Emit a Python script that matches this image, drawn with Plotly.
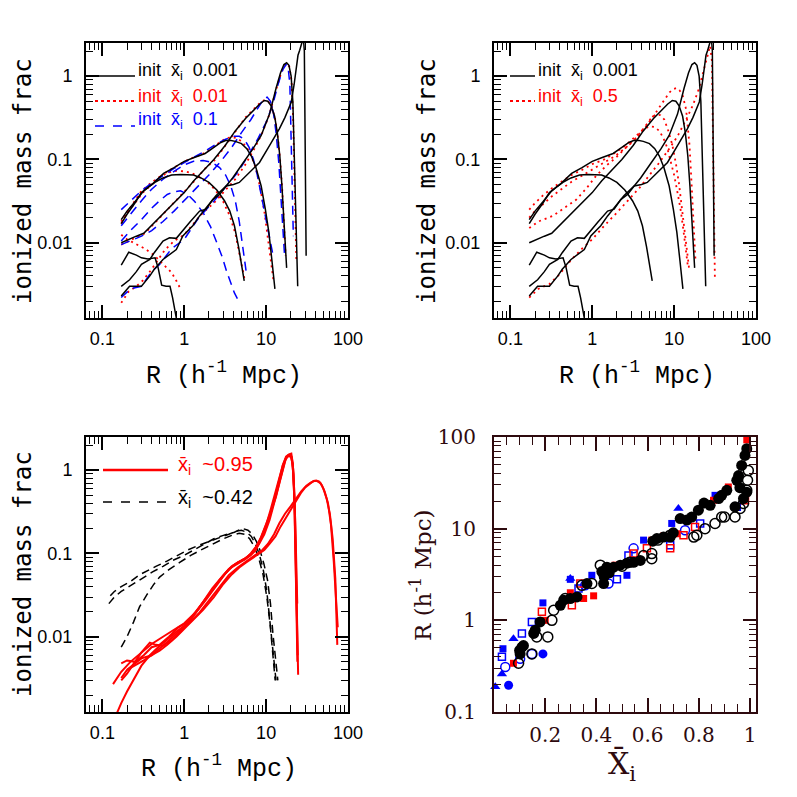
import plotly.graph_objects as go

# ---------- top panels: black solid curves, init xbar_i = 0.001 (shared by both) ----------
k0_r = [0.17, 0.21, 0.26, 0.30, 0.36, 0.44, 0.48, 0.53, 0.60, 0.67, 0.72, 0.78, 0.85]
k0_f = [0.0054, 0.0077, 0.0071, 0.0066, 0.0064, 0.0066, 0.0050, 0.0031, 0.0030, 0.0030, 0.0022, 0.0014, 0.0009]
k1_r = [0.17, 0.2, 0.25, 0.3, 0.38, 0.45, 0.55, 0.7, 0.9, 1.1, 1.3, 1.6, 2.0, 2.5, 3.1, 3.6, 4.1, 4.6, 5.0, 5.4]
k1_f = [0.017, 0.022, 0.030, 0.040, 0.048, 0.054, 0.060, 0.065, 0.066, 0.066, 0.065, 0.060, 0.053, 0.043, 0.032, 0.024, 0.016, 0.009, 0.0055, 0.0035]
k2_r = [0.17, 0.2, 0.25, 0.32, 0.42, 0.56, 0.75, 1.0, 1.3, 1.8, 2.3, 2.8, 3.2, 3.6, 4.2, 5.0, 5.8, 6.6, 7.5, 8.7, 9.8, 10.8, 11.8, 12.8]
k2_f = [0.019, 0.024, 0.031, 0.042, 0.052, 0.068, 0.080, 0.095, 0.105, 0.118, 0.14, 0.16, 0.169, 0.17, 0.165, 0.155, 0.135, 0.11, 0.08, 0.048, 0.025, 0.0133, 0.006, 0.0028]
k3_r = [0.17, 0.21, 0.26, 0.32, 0.42, 0.56, 0.75, 1.0, 1.3, 1.77, 2.3, 3.16, 4.2, 5.6, 7.0, 8.3, 9.5, 10.5, 11.5, 12.7, 13.7, 14.7, 15.6, 16.4, 17.2, 17.8]
k3_f = [0.010, 0.011, 0.012, 0.013, 0.017, 0.023, 0.030, 0.040, 0.055, 0.077, 0.10, 0.147, 0.22, 0.31, 0.39, 0.46, 0.51, 0.50, 0.44, 0.33, 0.21, 0.11, 0.048, 0.020, 0.0075, 0.005]
k4_r = [0.17, 0.215, 0.26, 0.30, 0.38, 0.43, 0.55, 0.66, 0.80, 0.95, 1.16, 1.54, 1.85, 2.23, 2.7, 3.25, 3.9, 5.2, 6.9, 8.7, 11, 13.2, 15, 16.5, 17.8, 19, 20.2, 21.2, 22.1, 23.2, 24.3]
k4_f = [0.0030, 0.0036, 0.0045, 0.0055, 0.0063, 0.0076, 0.0105, 0.0115, 0.0113, 0.0140, 0.0175, 0.024, 0.0253, 0.033, 0.038, 0.048, 0.060, 0.09, 0.134, 0.194, 0.35, 0.71, 1.1, 1.38, 1.45, 1.35, 1.0, 0.5, 0.09, 0.015, 0.003]
k5_r = [0.17, 0.215, 0.25, 0.30, 0.38, 0.43, 0.55, 0.80, 0.96, 1.27, 1.54, 1.85, 2.45, 3.25, 4.0, 4.7, 6.25, 8.3, 11, 14.5, 17, 19.2, 20.3, 22, 24.5, 25.7, 27, 28.5, 29.3, 30, 30.8]
k5_f = [0.0023, 0.0030, 0.0030, 0.0030, 0.0040, 0.0048, 0.0063, 0.0083, 0.0121, 0.016, 0.021, 0.0265, 0.037, 0.048, 0.050, 0.053, 0.070, 0.092, 0.147, 0.233, 0.32, 0.42, 0.49, 0.8, 1.78, 2.05, 2.4, 2.9, 2.0, 0.2, 0.007]

# ---------- top-left: red dotted, init xbar_i = 0.01 ----------
r0_r = [0.17, 0.2, 0.25, 0.33, 0.42, 0.55, 0.7, 0.8, 0.9]
r0_f = [0.0125, 0.011, 0.0098, 0.0085, 0.0072, 0.0056, 0.0044, 0.0035, 0.0028]
r1_r = [0.17, 0.2, 0.25, 0.3, 0.4, 0.5, 0.65, 0.8, 1.0, 1.2, 1.5, 1.9, 2.4, 3.0, 3.6, 4.2, 4.7, 5.2, 5.5]
r1_f = [0.017, 0.023, 0.032, 0.042, 0.053, 0.062, 0.070, 0.073, 0.072, 0.069, 0.063, 0.054, 0.043, 0.031, 0.021, 0.013, 0.0075, 0.0045, 0.0035]
r2_r = [0.17, 0.2, 0.25, 0.32, 0.42, 0.56, 0.75, 1.0, 1.3, 1.8, 2.3, 2.8, 3.3, 3.8, 4.4, 5.0, 5.8, 6.6, 7.5, 8.5, 9.5, 10.5, 11.5, 12.3]
r2_f = [0.018, 0.023, 0.030, 0.041, 0.052, 0.067, 0.080, 0.094, 0.106, 0.12, 0.142, 0.165, 0.18, 0.185, 0.18, 0.165, 0.14, 0.11, 0.078, 0.045, 0.024, 0.012, 0.006, 0.0035]
r3_r = [0.17, 0.21, 0.26, 0.33, 0.43, 0.57, 0.76, 1.0, 1.35, 1.8, 2.4, 3.2, 4.3, 5.6, 7.0, 8.3, 9.6, 10.6, 11.6, 12.8, 13.8, 14.8, 15.7, 16.5, 17.3]
r3_f = [0.0095, 0.0105, 0.0118, 0.013, 0.017, 0.023, 0.031, 0.041, 0.056, 0.078, 0.10, 0.15, 0.22, 0.32, 0.40, 0.47, 0.52, 0.50, 0.43, 0.32, 0.20, 0.10, 0.045, 0.018, 0.007]
r4_r = [0.17, 0.21, 0.26, 0.31, 0.38, 0.46, 0.58, 0.75, 1.0, 1.3, 1.7, 2.3, 3.1, 4.2, 5.5, 7.2, 9.0, 11, 13.2, 15.2, 16.8, 18, 19.2, 20.4, 21.4, 22.4, 23.4]
r4_f = [0.0019, 0.0026, 0.0030, 0.0035, 0.0045, 0.0060, 0.0082, 0.0105, 0.0125, 0.017, 0.023, 0.030, 0.042, 0.058, 0.085, 0.135, 0.21, 0.35, 0.68, 1.08, 1.35, 1.42, 1.3, 0.9, 0.3, 0.04, 0.006]

# ---------- top-left: blue dashed, init xbar_i = 0.1 ----------
b1_r = [0.17, 0.22, 0.3, 0.4, 0.5, 0.62, 0.75, 0.9, 1.1, 1.35, 1.7, 2.1, 2.5, 2.9, 3.3, 3.7, 4.1, 4.5, 4.8]
b1_f = [0.0105, 0.014, 0.019, 0.026, 0.032, 0.038, 0.041, 0.042, 0.038, 0.031, 0.023, 0.0155, 0.010, 0.0068, 0.0045, 0.0032, 0.0025, 0.0021, 0.0019]
b2_r = [0.17, 0.22, 0.3, 0.4, 0.55, 0.75, 1.0, 1.3, 1.7, 2.2, 2.7, 3.2, 3.7, 4.2, 4.7, 5.1, 5.5, 5.8]
b2_f = [0.016, 0.022, 0.032, 0.044, 0.058, 0.072, 0.086, 0.095, 0.097, 0.092, 0.080, 0.065, 0.048, 0.032, 0.018, 0.010, 0.006, 0.004]
b3_r = [0.17, 0.22, 0.3, 0.4, 0.55, 0.75, 1.0, 1.4, 1.9, 2.5, 3.2, 4.0, 4.7, 5.4, 6.2, 7.0, 7.8, 8.6, 9.4, 10.2, 11.0, 11.6, 12.0]
b3_f = [0.025, 0.032, 0.042, 0.052, 0.064, 0.078, 0.092, 0.11, 0.13, 0.155, 0.175, 0.19, 0.19, 0.175, 0.14, 0.10, 0.065, 0.04, 0.025, 0.016, 0.011, 0.0085, 0.0075]
b4_r = [0.17, 0.22, 0.3, 0.4, 0.55, 0.75, 1.0, 1.4, 2.0, 2.8, 3.8, 5.0, 6.5, 8.0, 9.3, 10.3, 11.3, 12.3, 13.3, 14.3, 15.3, 16.2, 16.8]
b4_f = [0.0095, 0.0105, 0.012, 0.014, 0.018, 0.024, 0.032, 0.045, 0.065, 0.095, 0.14, 0.21, 0.30, 0.42, 0.53, 0.56, 0.50, 0.36, 0.20, 0.09, 0.03, 0.012, 0.007]
b5_r = [0.17, 0.22, 0.3, 0.4, 0.5, 0.7, 1.0, 1.5, 2.2, 3.2, 4.5, 6.0, 8.0, 10, 12, 14, 16, 17.5, 18.5, 19.5, 20.5, 21.5]
b5_f = [0.0022, 0.0028, 0.0030, 0.0045, 0.0055, 0.0085, 0.0110, 0.020, 0.030, 0.046, 0.07, 0.11, 0.18, 0.28, 0.45, 0.8, 1.2, 1.38, 1.3, 0.8, 0.1, 0.012]

# ---------- top-right: red dotted, init xbar_i = 0.5 ----------
q1_r = [0.17, 0.2, 0.25, 0.32, 0.42, 0.56, 0.75, 1.0, 1.4, 1.9, 2.6, 3.4, 4.2, 5.0, 5.8, 6.6, 7.4, 8.2, 9.0, 10, 11, 12, 13, 14, 14.8]
q1_f = [0.025, 0.030, 0.037, 0.045, 0.054, 0.065, 0.075, 0.088, 0.10, 0.12, 0.15, 0.19, 0.23, 0.25, 0.245, 0.22, 0.18, 0.14, 0.10, 0.065, 0.04, 0.025, 0.014, 0.008, 0.005]
q2_r = [0.17, 0.2, 0.25, 0.32, 0.42, 0.56, 0.75, 1.0, 1.4, 1.9, 2.6, 3.4, 4.3, 5.2, 6.0, 6.8, 7.6, 8.5, 9.5, 10.5, 11.5, 12.5, 13.5, 14.5, 15.2]
q2_f = [0.020, 0.024, 0.029, 0.036, 0.044, 0.054, 0.064, 0.076, 0.092, 0.11, 0.14, 0.18, 0.24, 0.31, 0.35, 0.34, 0.30, 0.22, 0.15, 0.09, 0.05, 0.025, 0.012, 0.007, 0.005]
q3_r = [0.17, 0.22, 0.33, 0.45, 0.64, 0.85, 1.12, 1.5, 1.96, 2.6, 3.44, 4.4, 5.2, 6.03, 7.2, 8.8, 9.8, 10.6, 11.6, 12.7, 14, 15.4, 16.2, 16.9, 17.6, 18.2]
q3_f = [0.015, 0.018, 0.021, 0.026, 0.033, 0.045, 0.064, 0.085, 0.106, 0.14, 0.177, 0.24, 0.30, 0.37, 0.48, 0.64, 0.70, 0.72, 0.68, 0.59, 0.40, 0.15, 0.06, 0.025, 0.01, 0.0063]
q4_r = [0.17, 0.22, 0.3, 0.4, 0.55, 0.75, 1.0, 1.4, 2.0, 2.8, 3.8, 5.0, 6.5, 8.5, 11, 14, 17, 20, 22, 24, 26, 27.5, 29, 30, 31, 31.5]
q4_f = [0.0022, 0.0028, 0.0032, 0.0042, 0.0062, 0.0085, 0.011, 0.016, 0.023, 0.033, 0.046, 0.065, 0.09, 0.13, 0.19, 0.30, 0.45, 0.7, 1.0, 1.4, 1.9, 2.3, 1.5, 0.2, 0.01, 0.0035]

# ---------- bottom-left: black dashed (xbar_i ~0.42) ----------
d1_r = [0.12, 0.14, 0.17, 0.23, 0.3, 0.41, 0.55, 0.73, 1.0, 1.3, 1.8, 2.3, 3.0, 4.1, 5.1, 6.0, 6.8, 7.6, 8.4, 9.4, 10.4, 11.3, 12.1, 13.0, 13.9]
d1_f = [0.025, 0.030, 0.035, 0.042, 0.050, 0.060, 0.070, 0.083, 0.095, 0.11, 0.13, 0.15, 0.165, 0.18, 0.20, 0.19, 0.17, 0.14, 0.11, 0.075, 0.048, 0.025, 0.011, 0.005, 0.003]
d2_r = [0.125, 0.14, 0.17, 0.22, 0.28, 0.35, 0.45, 0.6, 0.8, 1.1, 1.5, 2.0, 2.7, 3.5, 4.3, 5.0, 5.8, 6.6, 7.4, 8.2, 9.2, 10.2, 11.0, 11.8, 12.5, 13.2]
d2_f = [0.031, 0.035, 0.040, 0.046, 0.055, 0.062, 0.070, 0.080, 0.093, 0.11, 0.125, 0.14, 0.155, 0.17, 0.185, 0.19, 0.18, 0.16, 0.13, 0.10, 0.065, 0.035, 0.018, 0.009, 0.005, 0.003]
d3_r = [0.17, 0.2, 0.24, 0.285, 0.35, 0.42, 0.5, 0.65, 0.88, 1.2, 1.6, 2.2, 3.0, 3.8, 4.7, 5.5, 6.3, 7.2, 8.2, 9.2, 10.2, 11.2, 12.0, 12.9]
d3_f = [0.0075, 0.010, 0.015, 0.023, 0.032, 0.042, 0.052, 0.064, 0.078, 0.095, 0.11, 0.13, 0.15, 0.165, 0.175, 0.17, 0.15, 0.12, 0.085, 0.055, 0.03, 0.014, 0.0065, 0.003]

# ---------- bottom-left: red solid (xbar_i ~0.95) ----------
a1_r = [0.135, 0.17, 0.22, 0.3, 0.4, 0.55, 0.75, 1.0, 1.4, 2.0, 2.8, 3.6, 4.5, 5.5, 6.5, 7.5, 8.7, 10, 11.5, 13.2, 14.8, 16.2, 17.5, 18.5, 19.5, 20.5, 21.5, 22.3, 23, 23.6, 24.1]
a1_f = [0.0027, 0.0038, 0.0050, 0.0065, 0.0082, 0.0100, 0.0120, 0.0145, 0.020, 0.032, 0.050, 0.066, 0.075, 0.085, 0.095, 0.11, 0.15, 0.21, 0.32, 0.48, 0.75, 1.1, 1.4, 1.5, 1.52, 1.4, 0.9, 0.35, 0.08, 0.015, 0.005]
a2_r = [0.17, 0.2, 0.25, 0.32, 0.4, 0.5, 0.65, 0.85, 1.1, 1.5, 2.0, 2.7, 3.5, 4.5, 5.5, 6.5, 7.5, 8.5, 10, 11.5, 13, 14.5, 16, 17.5, 19, 20.3, 21.2, 22, 22.8, 23.6, 24.3]
a2_f = [0.0048, 0.0052, 0.0050, 0.0060, 0.0075, 0.0080, 0.0100, 0.0130, 0.0150, 0.022, 0.032, 0.048, 0.065, 0.078, 0.085, 0.10, 0.12, 0.15, 0.22, 0.32, 0.50, 0.8, 1.15, 1.45, 1.55, 1.58, 1.2, 0.5, 0.1, 0.02, 0.006]
a3_r = [0.17, 0.2, 0.25, 0.3, 0.38, 0.45, 0.55, 0.7, 0.9, 1.2, 1.6, 2.2, 3.0, 3.8, 4.7, 5.6, 6.6, 7.6, 8.8, 10, 11.5, 13, 14.5, 16, 17.5, 19, 20.5, 21.5, 22.5, 23.5, 24.6]
a3_f = [0.0030, 0.0036, 0.0050, 0.0065, 0.0085, 0.0080, 0.0078, 0.0090, 0.0115, 0.016, 0.024, 0.038, 0.055, 0.070, 0.080, 0.088, 0.10, 0.12, 0.16, 0.22, 0.35, 0.55, 0.85, 1.15, 1.4, 1.5, 1.45, 1.0, 0.3, 0.04, 0.0035]
a4_r = [0.15, 0.17, 0.2, 0.25, 0.3, 0.38, 0.48, 0.6, 0.8, 1.0, 1.3, 1.8, 2.4, 3.2, 4.0, 5.0, 6.0, 7.0, 8.2, 9.5, 11, 12.5, 14, 15.5, 17, 18.5, 20, 21, 22, 22.8, 23.5, 24]
a4_f = [0.0012, 0.0016, 0.0022, 0.0032, 0.0045, 0.0060, 0.0075, 0.0090, 0.0115, 0.0135, 0.018, 0.027, 0.040, 0.058, 0.072, 0.082, 0.092, 0.105, 0.13, 0.17, 0.25, 0.40, 0.62, 0.95, 1.3, 1.48, 1.45, 1.2, 0.6, 0.2, 0.05, 0.025]
e1_r = [0.17, 0.2, 0.25, 0.3, 0.4, 0.5, 0.65, 0.85, 1.1, 1.5, 2.0, 2.7, 3.5, 4.5, 5.5, 6.5, 7.5, 9, 10.5, 12.5, 14.5, 17, 20, 23.2, 27, 31, 35, 38.5, 42, 46, 50, 55, 60, 65, 70, 74]
e1_f = [0.0032, 0.0040, 0.0048, 0.0055, 0.0060, 0.0072, 0.0090, 0.0115, 0.0140, 0.019, 0.027, 0.040, 0.055, 0.068, 0.078, 0.088, 0.095, 0.11, 0.13, 0.17, 0.23, 0.30, 0.37, 0.46, 0.56, 0.65, 0.71, 0.74, 0.74, 0.70, 0.60, 0.45, 0.30, 0.15, 0.05, 0.008]
e2_r = [0.2, 0.25, 0.32, 0.4, 0.5, 0.62, 0.8, 1.0, 1.3, 1.7, 2.3, 3.0, 3.8, 4.7, 5.7, 6.8, 8, 9.5, 11, 13, 15, 17.5, 20, 23, 26.5, 30, 34, 38, 41, 44.5, 48, 52, 57, 62, 67, 71.5, 75]
e2_f = [0.0040, 0.0045, 0.0052, 0.0060, 0.0068, 0.0080, 0.0100, 0.0125, 0.016, 0.021, 0.030, 0.043, 0.056, 0.068, 0.078, 0.088, 0.097, 0.11, 0.13, 0.16, 0.21, 0.27, 0.34, 0.43, 0.53, 0.62, 0.69, 0.74, 0.75, 0.73, 0.66, 0.55, 0.40, 0.22, 0.08, 0.03, 0.013]

# ---------- bottom-right: R versus xbar_i ----------
bk_fill_x = [0.102, 0.109, 0.115, 0.10, 0.155, 0.161, 0.18, 0.259, 0.272, 0.298, 0.324, 0.363, 0.428, 0.421, 0.441, 0.467, 0.493, 0.519, 0.545, 0.571, 0.43, 0.45, 0.636, 0.662, 0.688, 0.727, 0.753, 0.772, 0.798, 0.844, 0.877, 0.889, 0.909, 0.948, 0.955, 0.967, 0.98, 0.987, 0.941, 0.974, 0.987, 0.62, 0.70, 0.82, 0.96]
bk_fill_y = [0.43, 0.51, 0.53, 0.47, 0.72, 0.78, 0.96, 1.46, 1.66, 1.73, 1.8, 2.52, 2.52, 3.4, 3.8, 3.8, 4.0, 4.2, 4.3, 4.5, 3.0, 3.3, 7.8, 8.1, 8.1, 12.9, 12.4, 13.4, 15.9, 18.0, 21.3, 23.1, 26.2, 33.7, 38, 49, 63, 74.6, 17.3, 21.3, 25, 7.3, 9.0, 19.0, 28]
bk_open_x = [0.096, 0.148, 0.167, 0.21, 0.226, 0.233, 0.278, 0.343, 0.382, 0.415, 0.441, 0.584, 0.616, 0.616, 0.64, 0.688, 0.78, 0.792, 0.824, 0.863, 0.889, 0.90, 0.941, 0.961, 0.974, 0.987, 0.99, 0.993, 0.50, 0.53]
bk_open_y = [0.34, 0.43, 0.66, 0.66, 1.0, 1.29, 1.73, 2.41, 2.52, 4.0, 3.7, 5.1, 4.7, 5.35, 7.5, 8.5, 8.1, 8.5, 10.0, 11.4, 13.4, 13.4, 13.4, 16.6, 18.8, 26.2, 33.7, 43, 3.9, 4.3]
rd_fill_x = [0.076, 0.20, 0.298, 0.35, 0.389, 0.473, 0.616, 0.662, 0.714, 0.857, 0.915, 0.987]
rd_fill_y = [0.34, 1.0, 2.0, 1.73, 1.85, 4.0, 7.5, 8.3, 8.8, 20.4, 28.5, 93]
rd_open_x = [0.187, 0.304, 0.337, 0.545, 0.597, 0.688, 0.785, 0.74, 0.98]
rd_open_y = [1.24, 1.46, 2.52, 5.35, 6.1, 6.1, 10.4, 8.5, 20.4]
bl_fill_sq_x = [0.035, 0.191, 0.298, 0.382, 0.519, 0.584, 0.694, 0.863]
bl_fill_sq_y = [0.49, 1.55, 2.8, 3.1, 3.1, 7.5, 11.4, 23.1]
bl_open_sq_x = [0.031, 0.109, 0.148, 0.33, 0.525, 0.48, 0.688, 0.805, 0.948]
bl_open_sq_y = [0.40, 0.72, 0.96, 2.22, 5.1, 2.8, 6.6, 11.4, 17.3]
bl_fill_ci_x = [0.057, 0.191]
bl_fill_ci_y = [0.196, 0.43]
bl_open_ci_x = [0.044, 0.102, 0.148, 0.356, 0.447, 0.545, 0.746]
bl_open_ci_y = [0.31, 0.38, 0.43, 2.41, 2.52, 6.1, 9.6]
bl_tri_x = [0.005, 0.031, 0.076, 0.298, 0.72]
bl_tri_y = [0.188, 0.26, 0.63, 2.86, 16.6]

# ---------- tick labels ----------
r_ticks = [0.1, 1, 10, 100]
r_ticktext = ["0.1", "1", "10", "100"]
f_ticks = [0.01, 0.1, 1]
f_ticktext = ["0.01", "0.1", "1"]
xi_ticks = [0.2, 0.4, 0.6, 0.8, 1.0]
xi_ticktext = ["0.2", "0.4", "0.6", "0.8", "1"]
rr_ticks = [0.1, 1, 10, 100]
rr_ticktext = ["0.1", "1", "10", "100"]

# page body has an 8px margin: draw on a 789px canvas and place everything in
# window pixel terms
OFF = 8
W = 797 - OFF
MAROON = "#2e0a0e"


def px(x):
    return (x - OFF) / W


def py(y):
    return 1 - (y - OFF) / W


def minor_log(lo, hi):
    out = []
    d = lo
    while d < hi:
        for m in range(2, 10):
            v = m * d
            if v < hi:
                out.append(v)
        d *= 10
    return out


def log_axis(rng, dom, anchor, tickvals, ticktext, minor_vals, font, standoff, color="black"):
    return dict(
        type="log", range=rng, domain=dom, anchor=anchor, automargin=False,
        showline=True, mirror="allticks", linecolor=color, linewidth=2,
        ticks="inside", ticklen=13, tickwidth=1.5, tickcolor=color,
        tickvals=tickvals, ticktext=ticktext, tickfont=font,
        minor=dict(ticks="inside", ticklen=7, tickwidth=1.2, tickcolor=color,
                   tickmode="array", tickvals=minor_vals),
        showgrid=False, zeroline=False, ticklabelstandoff=standoff,
    )


left_dom = [px(86), px(348)]
right_dom = [px(494), px(756)]
top_dom = [py(318), py(43)]
bot_dom = [py(712), py(437)]

tick_font = dict(family="Liberation Sans Narrow, Liberation Sans, Arial", size=18, color="black")
br_font = dict(family="DejaVu Serif", size=20, color=MAROON)

R_RANGE = [-1.2, 2.0]
F_RANGE = [-2.903, 0.398]
r_minor = minor_log(0.01, 100)
f_minor = minor_log(0.001, 10)

fig = go.Figure()

BLACK = dict(color="black", width=1.5)
RED_DOT = dict(color="red", width=1.8, dash="2px,4px")
BLUE_DASH = dict(color="blue", width=1.5, dash="9px,6px")


def add_line(r, f, line, xa, ya):
    fig.add_trace(go.Scatter(x=r, y=f, mode="lines", line=line, xaxis=xa, yaxis=ya,
                             showlegend=False, hoverinfo="skip"))


# top-left
for r, f in [(r0_r, r0_f), (r1_r, r1_f), (r2_r, r2_f), (r3_r, r3_f), (r4_r, r4_f)]:
    add_line(r, f, RED_DOT, "x", "y")
for r, f in [(b1_r, b1_f), (b2_r, b2_f), (b3_r, b3_f), (b4_r, b4_f), (b5_r, b5_f)]:
    add_line(r, f, BLUE_DASH, "x", "y")
black_curves = [(k0_r, k0_f), (k1_r, k1_f), (k2_r, k2_f), (k3_r, k3_f), (k4_r, k4_f), (k5_r, k5_f)]
for r, f in black_curves:
    add_line(r, f, BLACK, "x", "y")

# top-right
for r, f in [(q1_r, q1_f), (q2_r, q2_f), (q3_r, q3_f), (q4_r, q4_f)]:
    add_line(r, f, RED_DOT, "x2", "y2")
for r, f in black_curves:
    add_line(r, f, BLACK, "x2", "y2")

# bottom-left
for r, f in [(d1_r, d1_f), (d2_r, d2_f), (d3_r, d3_f)]:
    add_line(r, f, dict(color="black", width=1.5, dash="8px,5px"), "x3", "y3")
for r, f in [(a1_r, a1_f), (a2_r, a2_f), (a3_r, a3_f), (a4_r, a4_f), (e1_r, e1_f), (e2_r, e2_f)]:
    add_line(r, f, dict(color="red", width=2), "x3", "y3")


# bottom-right
def add_pts(x, y, symbol, color, size, open_=False):
    fig.add_trace(go.Scatter(
        x=x, y=y, mode="markers", xaxis="x4", yaxis="y4", showlegend=False, hoverinfo="skip",
        marker=dict(symbol=symbol, size=size,
                    color="rgba(0,0,0,0)" if open_ else color,
                    line=dict(color=color, width=1.5 if open_ else 0)),
        cliponaxis=False,
    ))


add_pts(bl_tri_x, bl_tri_y, "triangle-up", "blue", 9)
add_pts(bl_fill_ci_x, bl_fill_ci_y, "circle", "blue", 9)
add_pts(bl_open_ci_x, bl_open_ci_y, "circle", "blue", 9, True)
add_pts(bl_fill_sq_x, bl_fill_sq_y, "square", "blue", 7)
add_pts(bl_open_sq_x, bl_open_sq_y, "square", "blue", 7, True)
add_pts(rd_fill_x, rd_fill_y, "square", "red", 7)
add_pts(rd_open_x, rd_open_y, "square", "red", 7, True)
add_pts(bk_open_x, bk_open_y, "circle", "black", 10, True)
add_pts(bk_fill_x, bk_fill_y, "circle", "black", 11)

fig.update_layout(
    width=W, height=W, autosize=False,
    margin=dict(l=0, r=0, t=0, b=0),
    paper_bgcolor="white", plot_bgcolor="white",
    showlegend=False,
    xaxis=log_axis(R_RANGE, left_dom, "y", r_ticks, r_ticktext, r_minor, tick_font, 3),
    yaxis=log_axis(F_RANGE, top_dom, "x", f_ticks, f_ticktext, f_minor, tick_font, 8),
    xaxis2=log_axis(R_RANGE, right_dom, "y2", r_ticks, r_ticktext, r_minor, tick_font, 3),
    yaxis2=log_axis(F_RANGE, top_dom, "x2", f_ticks, f_ticktext, f_minor, tick_font, 8),
    xaxis3=log_axis(R_RANGE, left_dom, "y3", r_ticks, r_ticktext, r_minor, tick_font, 3),
    yaxis3=log_axis(F_RANGE, bot_dom, "x3", f_ticks, f_ticktext, f_minor, tick_font, 8),
    xaxis4=dict(
        range=[0.0, 1.023], domain=right_dom, anchor="y4", automargin=False,
        showline=True, mirror="allticks", linecolor=MAROON, linewidth=2,
        ticks="inside", ticklen=14, tickwidth=1.5, tickcolor=MAROON,
        tickvals=xi_ticks, ticktext=xi_ticktext, tickfont=br_font,
        minor=dict(ticks="inside", ticklen=8, tickwidth=1.2, tickcolor=MAROON, dtick=0.05, tick0=0),
        showgrid=False, zeroline=False, ticklabelstandoff=4,
    ),
    yaxis4=log_axis([-1, 2], bot_dom, "x4", rr_ticks, rr_ticktext, minor_log(0.1, 100), br_font, 12, MAROON),
)

ann = []
shapes = []
title_font = dict(family="DejaVu Sans Mono", size=24, color="black")
r_font = dict(family="Liberation Mono", size=25, color="black")
R_TITLE = "R (h<sup>-1</sup> Mpc)"


def label(x, y, text, font, angle=0):
    ann.append(dict(x=px(x), y=py(y), text=text, textangle=angle, font=font,
                    xanchor="center", yanchor="middle", showarrow=False,
                    xref="paper", yref="paper"))


label(23, 181, "ionized mass frac", title_font, -90)
label(427, 181, "ionized mass frac", title_font, -90)
label(23, 574, "ionized mass frac", title_font, -90)
label(224, 374, R_TITLE, r_font)
label(637, 374, R_TITLE, r_font)
label(219, 767, R_TITLE, r_font)
label(421, 575, R_TITLE, dict(family="DejaVu Serif", size=23, color=MAROON), -90)
label(622, 766, "X\u0304<sub>i</sub>", dict(family="DejaVu Serif", size=30, color=MAROON))


def legend_entry(x0, x1, y_line, y_text, x_text, line, text, color, size=18):
    s = dict(type="line", xref="paper", yref="paper", x0=px(x0), x1=px(x1),
             y0=py(y_line), y1=py(y_line), line=line)
    shapes.append(s)
    ann.append(dict(x=px(x_text), y=py(y_text), text=text, xanchor="left", yanchor="middle",
                    font=dict(family="Liberation Sans", size=size, color=color),
                    showarrow=False, xref="paper", yref="paper"))


NB = "\u00a0"
XB = "x\u0304<sub>i</sub>"
legend_entry(95, 135, 76, 72, 136, dict(color="black", width=1.5), "init" + NB + " " + XB + NB + " 0.001", "black")
legend_entry(95, 135, 101, 97, 136, dict(color="red", width=2, dash="dot"), "init" + NB + " " + XB + NB + " 0.01", "red")
legend_entry(95, 135, 126, 121, 136, dict(color="blue", width=1.5, dash="dash"), "init" + NB + " " + XB + NB + " 0.1", "blue")
legend_entry(510, 535, 76, 72, 536, dict(color="black", width=1.5), "init" + NB + " " + XB + NB + " 0.001", "black")
legend_entry(510, 535, 101, 97, 536, dict(color="red", width=2, dash="dot"), "init" + NB + " " + XB + NB + " 0.5", "red")
legend_entry(103, 168, 470, 465, 176, dict(color="red", width=2.5), XB + NB + " ~0.95", "red", 20)
legend_entry(103, 168, 502, 498, 176, dict(color="black", width=1.5, dash="dash"), XB + NB + " ~0.42", "black", 20)

fig.update_layout(annotations=ann, shapes=shapes)
fig.write_html("out.html")
